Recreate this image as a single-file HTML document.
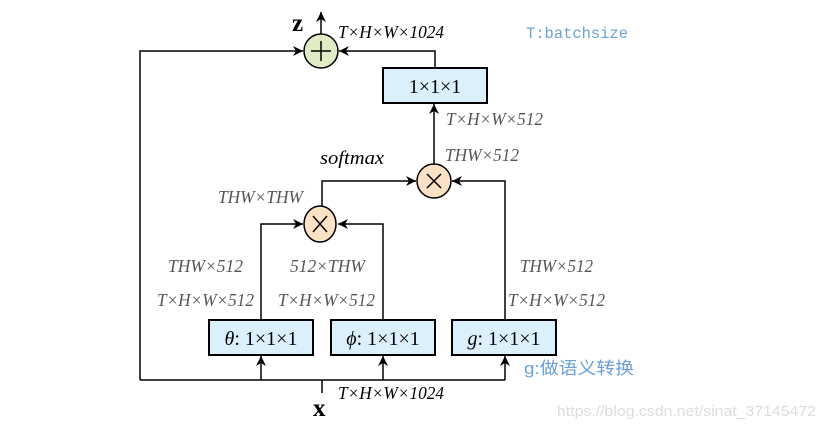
<!DOCTYPE html>
<html><head><meta charset="utf-8"><style>body{margin:0;background:#fff}</style></head><body>
<svg width="826" height="429" viewBox="0 0 826 429" xmlns="http://www.w3.org/2000/svg" font-family="Liberation Serif, serif">
<defs><marker id="a" viewBox="0 0 10 10" refX="10" refY="5" markerWidth="10" markerHeight="10" orient="auto" markerUnits="userSpaceOnUse"><path d="M0,0 L10,5 L0,10 L3,5z" fill="#000"/></marker></defs>
<g stroke="#000" stroke-width="1.5" fill="none">
<polyline points="140,380 140,51 303,51" marker-end="url(#a)"/>
<polyline points="435,68 435,51 339,51" marker-end="url(#a)"/>
<line x1="321" y1="34" x2="321" y2="12" marker-end="url(#a)"/>
<line x1="434" y1="164" x2="434" y2="104" marker-end="url(#a)"/>
<polyline points="322,206 322,181 416,181" marker-end="url(#a)"/>
<polyline points="505,320 505,181 452,181" marker-end="url(#a)"/>
<polyline points="261,320 261,224 303,224" marker-end="url(#a)"/>
<polyline points="383,320 383,224 338,224" marker-end="url(#a)"/>
<line x1="140" y1="380" x2="505" y2="380"/>
<line x1="322" y1="380" x2="322" y2="393"/>
<line x1="261" y1="380" x2="261" y2="356" marker-end="url(#a)"/>
<line x1="383" y1="380" x2="383" y2="356" marker-end="url(#a)"/>
<line x1="505" y1="380" x2="505" y2="356" marker-end="url(#a)"/>
</g>
<g stroke="#000" stroke-width="1.5">
<circle cx="321" cy="51" r="17" fill="#e1ecc6"/>
<circle cx="434" cy="181" r="17" fill="#fbe2c6"/>
<ellipse cx="320" cy="224" rx="16" ry="18" fill="#fbe2c6"/>
<line x1="321" y1="41" x2="321" y2="61"/><line x1="311" y1="51" x2="331" y2="51"/>
<line x1="427" y1="174" x2="441" y2="188"/><line x1="441" y1="174" x2="427" y2="188"/>
<line x1="313" y1="216" x2="327" y2="232"/><line x1="327" y1="216" x2="313" y2="232"/>
<g fill="#dcf0fb" stroke-width="2">
<rect x="383" y="68" width="104" height="35"/>
<rect x="209" y="320" width="104" height="35"/>
<rect x="331" y="320" width="104" height="35"/>
<rect x="452" y="320" width="104" height="35"/>
</g></g>
<g font-size="20" text-anchor="middle" fill="#000">
<text x="435" y="93">1×1×1</text>
<text x="261" y="345"><tspan font-style="italic">θ</tspan>: 1×1×1</text>
<text x="383" y="345"><tspan font-style="italic">ϕ</tspan>: 1×1×1</text>
<text x="504" y="345"><tspan font-style="italic">g</tspan>: 1×1×1</text>
</g>
<text x="292" y="31" font-size="25" font-weight="bold">z</text>
<text x="313" y="416" font-size="25" font-weight="bold">x</text>
<g font-size="17.5" font-style="italic" fill="#000">
<text x="338" y="38" textLength="106" lengthAdjust="spacingAndGlyphs">T×H×W×1024</text>
<text x="338" y="399" textLength="106" lengthAdjust="spacingAndGlyphs">T×H×W×1024</text>
<text x="320" y="164" font-size="19" textLength="64" lengthAdjust="spacingAndGlyphs">softmax</text>
</g>
<g font-size="17.5" font-style="italic" fill="#555" lengthAdjust="spacingAndGlyphs">
<text x="446" y="125" textLength="97" lengthAdjust="spacingAndGlyphs">T×H×W×512</text>
<text x="445" y="161" textLength="74" lengthAdjust="spacingAndGlyphs">THW×512</text>
<text x="218" y="203" textLength="85" lengthAdjust="spacingAndGlyphs">THW×THW</text>
<text x="168" y="272" textLength="75" lengthAdjust="spacingAndGlyphs">THW×512</text>
<text x="290" y="272" textLength="75" lengthAdjust="spacingAndGlyphs">512×THW</text>
<text x="157" y="306" textLength="97" lengthAdjust="spacingAndGlyphs">T×H×W×512</text>
<text x="278" y="306" textLength="97" lengthAdjust="spacingAndGlyphs">T×H×W×512</text>
<text x="520" y="272" textLength="73" lengthAdjust="spacingAndGlyphs">THW×512</text>
<text x="508" y="306" textLength="97" lengthAdjust="spacingAndGlyphs">T×H×W×512</text>
</g>
<text x="526" y="38" font-family="Liberation Mono, monospace" font-size="16" fill="#6a9fd8" textLength="102" lengthAdjust="spacingAndGlyphs">T:batchsize</text>
<text x="524" y="374" font-family="Liberation Sans, 'Noto Sans CJK SC', sans-serif" font-size="17" fill="#6a9fd8" textLength="110" lengthAdjust="spacingAndGlyphs">g:做语义转换</text>
<text x="557" y="416" font-family="Liberation Sans, sans-serif" font-size="15" fill="#ddd" textLength="259" lengthAdjust="spacingAndGlyphs">https://blog.csdn.net/sinat_37145472</text>
</svg>
</body></html>
